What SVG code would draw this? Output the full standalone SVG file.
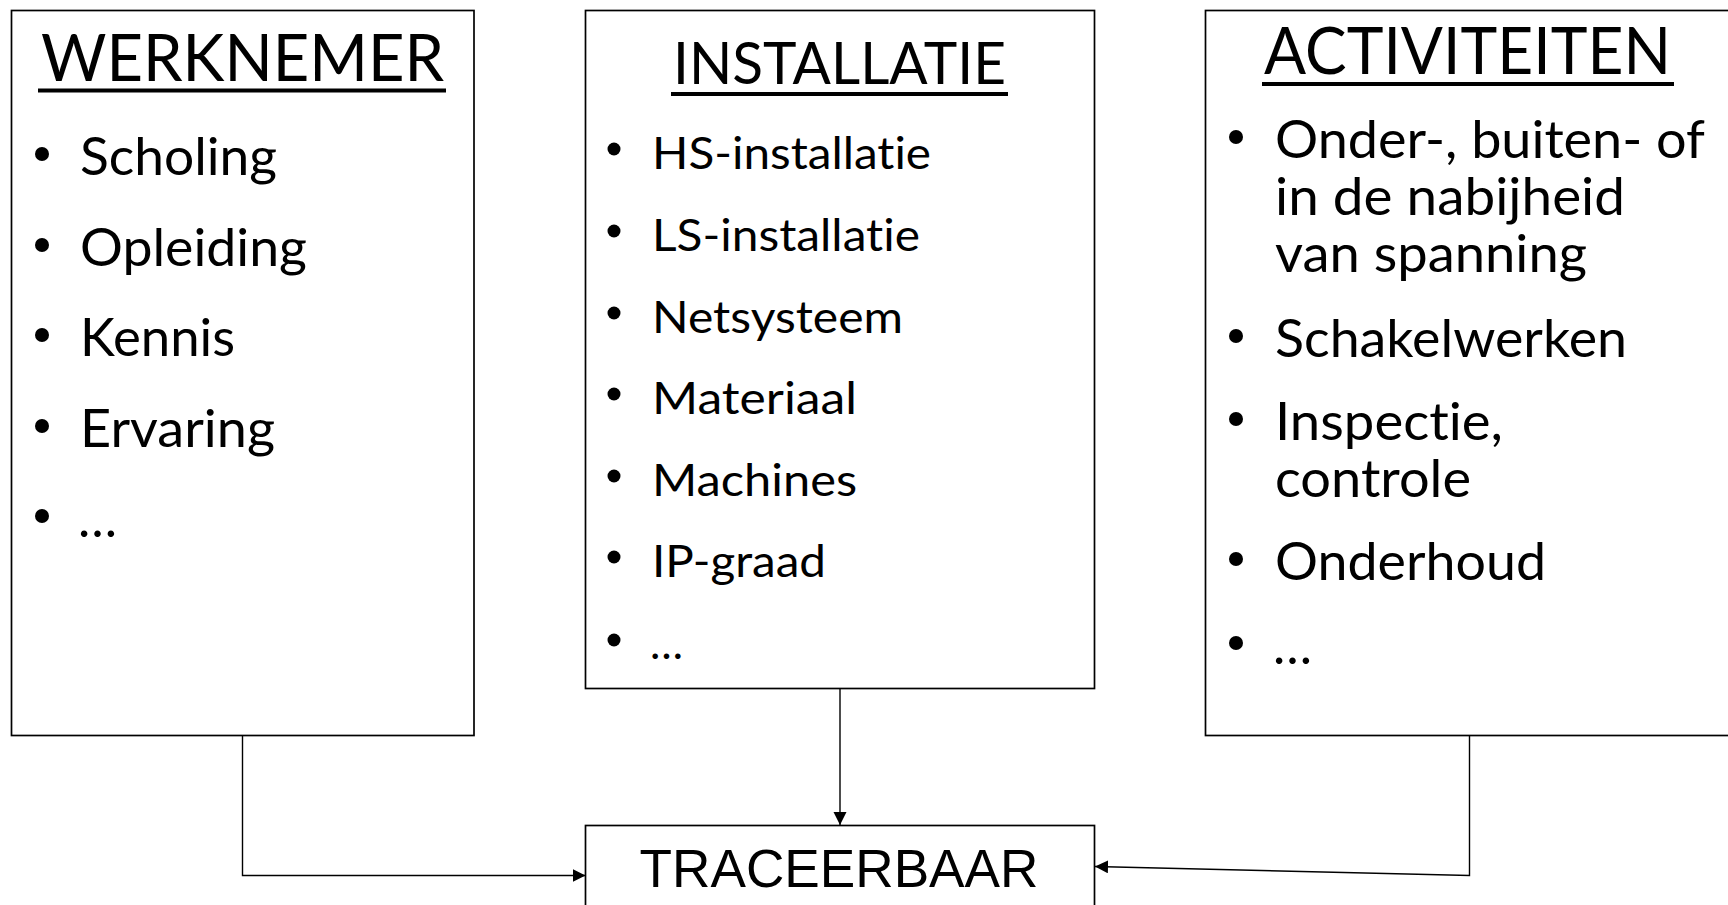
<svg xmlns="http://www.w3.org/2000/svg" width="1728" height="905" viewBox="0 0 1728 905">
<style>
.box{fill:#fff;stroke:#000;stroke-width:1.7}
.t{font-family:Lato,"Noto Sans","Liberation Sans",sans-serif;fill:#000;font-variant-ligatures:none;font-feature-settings:"liga" 0,"clig" 0}
.title{font-size:66px}
.it{font-size:52px}
.is{font-size:44px}
.ul{stroke:#000;stroke-width:4}
.bul{fill:#000}
.conn{fill:none;stroke:#000;stroke-width:1.4}
.lbl{font-family:"Liberation Sans",Arial,sans-serif;font-size:54.5px;fill:#000}
</style>
<defs>
<marker id="arr" markerUnits="userSpaceOnUse" markerWidth="14" markerHeight="14" refX="13" refY="6.5" orient="auto">
<path d="M0,0 L13,6.5 L0,13 z" fill="#000"/>
</marker>
</defs>
<rect width="1728" height="905" fill="#fff"/>

<g id="werknemer">
<rect class="box" x="11.5" y="10.5" width="462.5" height="725"/>
<text class="t title" x="41" y="81" textLength="403" lengthAdjust="spacingAndGlyphs">WERKNEMER</text>
<line class="ul" x1="38" y1="90.5" x2="446" y2="90.5"/>
<circle class="bul" cx="42" cy="154" r="7"/>
<text class="t it" x="80" y="175" textLength="197" lengthAdjust="spacingAndGlyphs">Scholing</text>
<circle class="bul" cx="42" cy="245" r="7"/>
<text class="t it" x="80" y="266" textLength="227" lengthAdjust="spacingAndGlyphs">Opleiding</text>
<circle class="bul" cx="42" cy="335" r="7"/>
<text class="t it" x="80" y="356" textLength="155" lengthAdjust="spacingAndGlyphs">Kennis</text>
<circle class="bul" cx="42" cy="426" r="7"/>
<text class="t it" x="80" y="447" textLength="195" lengthAdjust="spacingAndGlyphs">Ervaring</text>
<circle class="bul" cx="42" cy="516" r="7"/>
<text class="t it" x="78" y="537">…</text>
</g>

<g id="installatie">
<rect class="box" x="585.5" y="10.5" width="509" height="678"/>
<text class="t title" x="673" y="84" style="font-size:59px" textLength="333" lengthAdjust="spacingAndGlyphs">INSTALLATIE</text>
<line class="ul" x1="671" y1="94" x2="1008" y2="94"/>
<circle class="bul" cx="614" cy="149" r="6.5"/>
<text class="t is" x="652" y="169" textLength="279" lengthAdjust="spacingAndGlyphs">HS-installatie</text>
<circle class="bul" cx="614" cy="231" r="6.5"/>
<text class="t is" x="652" y="251" textLength="268" lengthAdjust="spacingAndGlyphs">LS-installatie</text>
<circle class="bul" cx="614" cy="313" r="6.5"/>
<text class="t is" x="652" y="333" textLength="251" lengthAdjust="spacingAndGlyphs">Netsysteem</text>
<circle class="bul" cx="614" cy="394" r="6.5"/>
<text class="t is" x="652" y="414" textLength="205" lengthAdjust="spacingAndGlyphs">Materiaal</text>
<circle class="bul" cx="614" cy="476" r="6.5"/>
<text class="t is" x="652" y="496" textLength="205" lengthAdjust="spacingAndGlyphs">Machines</text>
<circle class="bul" cx="614" cy="557" r="6.5"/>
<text class="t is" x="652" y="577" textLength="174" lengthAdjust="spacingAndGlyphs">IP-graad</text>
<circle class="bul" cx="614" cy="640" r="6.5"/>
<text class="t is" x="650" y="659">…</text>
</g>

<g id="activiteiten">
<rect class="box" x="1205.5" y="10.5" width="560" height="725"/>
<text class="t title" x="1264" y="74" textLength="407" lengthAdjust="spacingAndGlyphs">ACTIVITEITEN</text>
<line class="ul" x1="1262" y1="84" x2="1674" y2="84"/>
<circle class="bul" cx="1236" cy="137" r="7"/>
<text class="t it" x="1275" y="158" textLength="430" lengthAdjust="spacingAndGlyphs">Onder-, buiten- of</text>
<text class="t it" x="1275" y="215" textLength="350" lengthAdjust="spacingAndGlyphs">in de nabijheid</text>
<text class="t it" x="1275" y="272" textLength="312" lengthAdjust="spacingAndGlyphs">van spanning</text>
<circle class="bul" cx="1236" cy="336" r="7"/>
<text class="t it" x="1275" y="357" textLength="352" lengthAdjust="spacingAndGlyphs">Schakelwerken</text>
<circle class="bul" cx="1236" cy="419" r="7"/>
<text class="t it" x="1275" y="440" textLength="228" lengthAdjust="spacingAndGlyphs">Inspectie,</text>
<text class="t it" x="1275" y="497" textLength="196" lengthAdjust="spacingAndGlyphs">controle</text>
<circle class="bul" cx="1236" cy="559" r="7"/>
<text class="t it" x="1275" y="580" textLength="271" lengthAdjust="spacingAndGlyphs">Onderhoud</text>
<circle class="bul" cx="1236" cy="643" r="7"/>
<text class="t it" x="1273" y="664">…</text>
</g>

<g id="traceerbaar">
<rect class="box" x="585.5" y="825.5" width="509" height="120"/>
<text class="lbl" x="839" y="887" text-anchor="middle" textLength="399" lengthAdjust="spacingAndGlyphs">TRACEERBAAR</text>
</g>

<g id="connectors">
<path class="conn" d="M242.5,736 V875.5 H585.5" marker-end="url(#arr)"/>
<path class="conn" d="M840,689 V825" marker-end="url(#arr)"/>
<path class="conn" d="M1469.5,736 V875.5 L1095,866.5" marker-end="url(#arr)"/>
</g>
</svg>
